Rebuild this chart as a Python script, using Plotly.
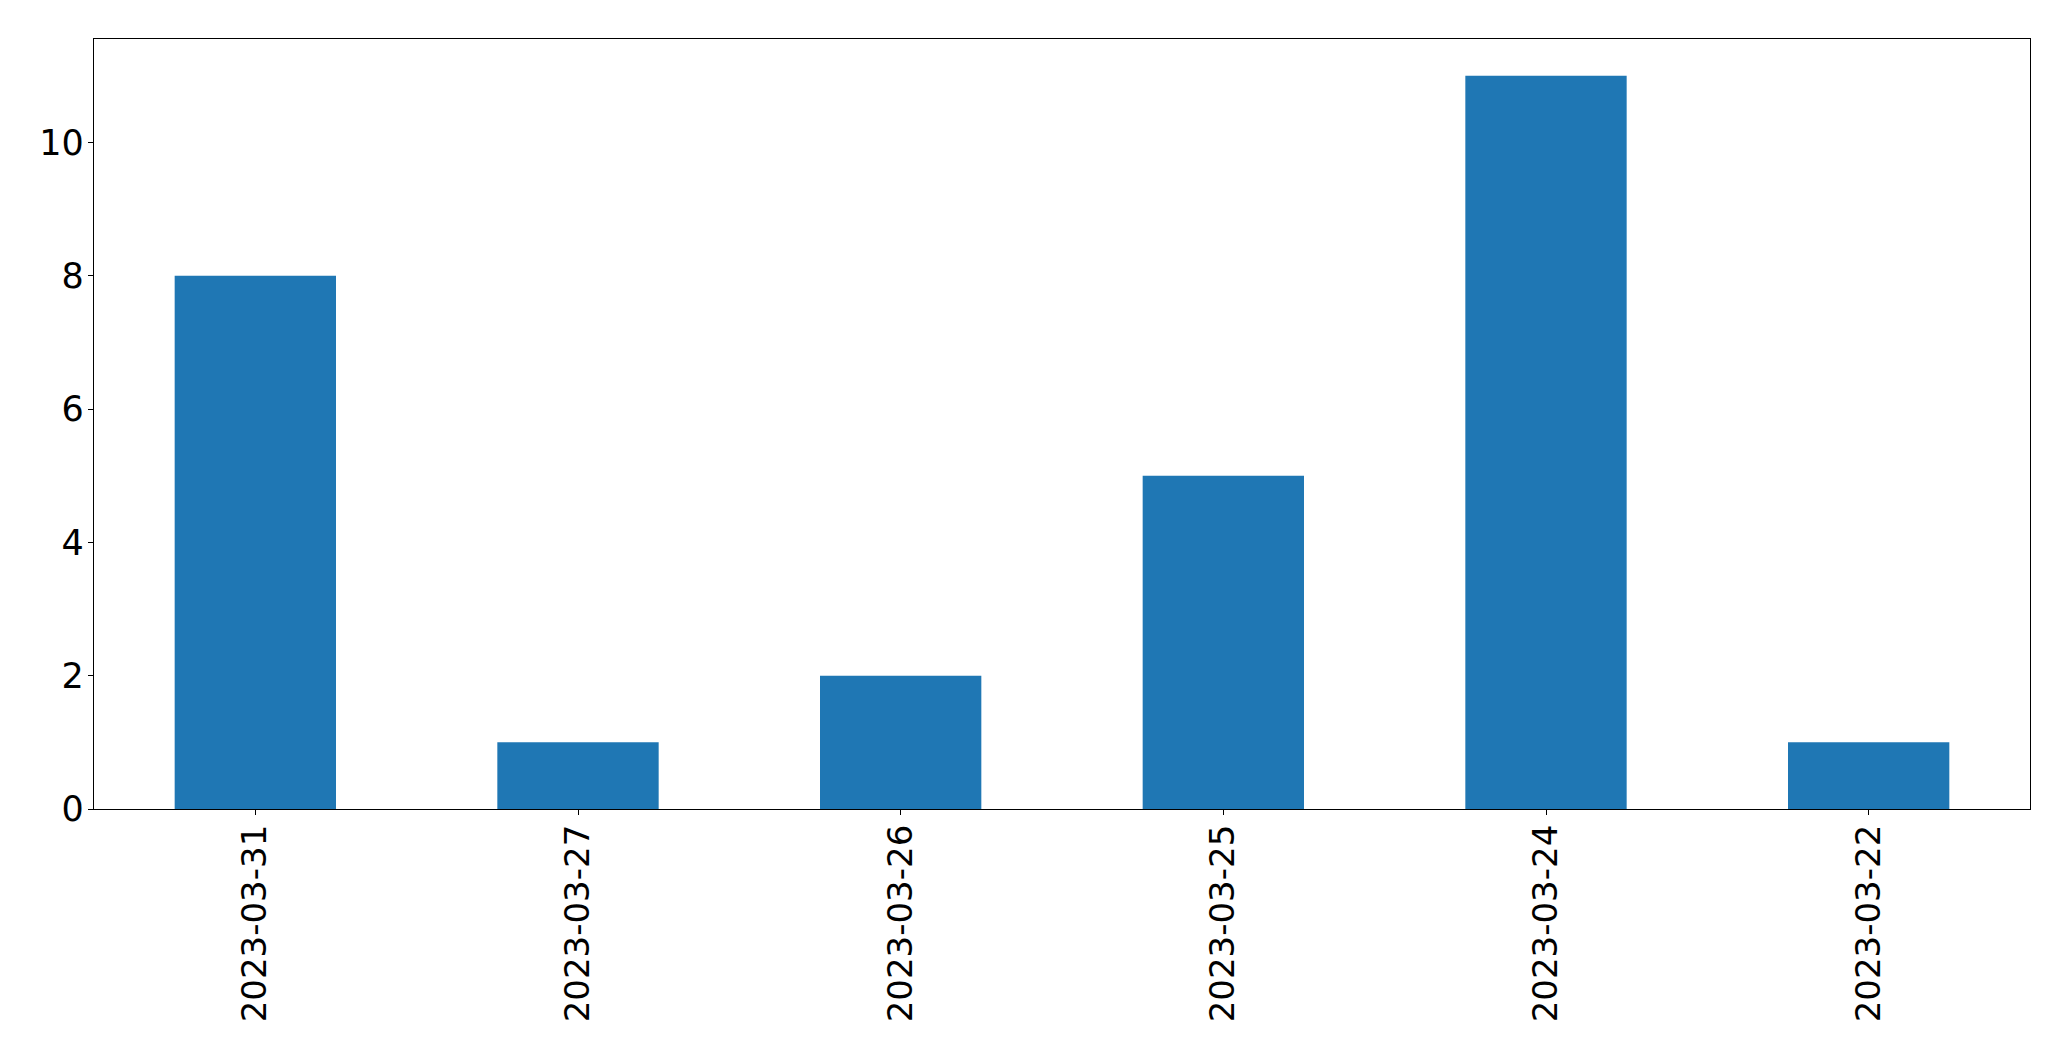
import plotly.graph_objects as go

dates = ['2023-03-31', '2023-03-27', '2023-03-26', '2023-03-25', '2023-03-24', '2023-03-22']
counts = [8, 1, 2, 5, 11, 1]

fig = go.Figure(go.Bar(x=dates, y=counts, marker=dict(color='#1f77b4', line=dict(width=0))))

xfont = dict(family='DejaVu Sans', size=34, color='black')
yfont = dict(family='DejaVu Sans', size=35, color='black')
fig.update_layout(
    width=2071, height=1061,
    margin=dict(l=86, r=49, t=31, b=260),
    paper_bgcolor='white', plot_bgcolor='white',
    bargap=0.5, showlegend=False,
    font=xfont,
)
fig.update_xaxes(type='category', range=[-0.5, 5.5], tickangle=-90, ticks='outside', ticklen=5,
                 tickcolor='black', showline=True, linecolor='black', linewidth=1.3, mirror=True,
                 showgrid=False, tickfont=xfont, automargin=False, ticklabelstandoff=-4)
fig.update_yaxes(range=[0, 11.55], dtick=2, tick0=0, ticks='outside', ticklen=5, tickcolor='black',
                 showline=True, linecolor='black', linewidth=1.3, mirror=True, showgrid=False,
                 zeroline=False, tickfont=yfont, automargin=False, ticklabelstandoff=-3)

fig.write_html('out.html')
